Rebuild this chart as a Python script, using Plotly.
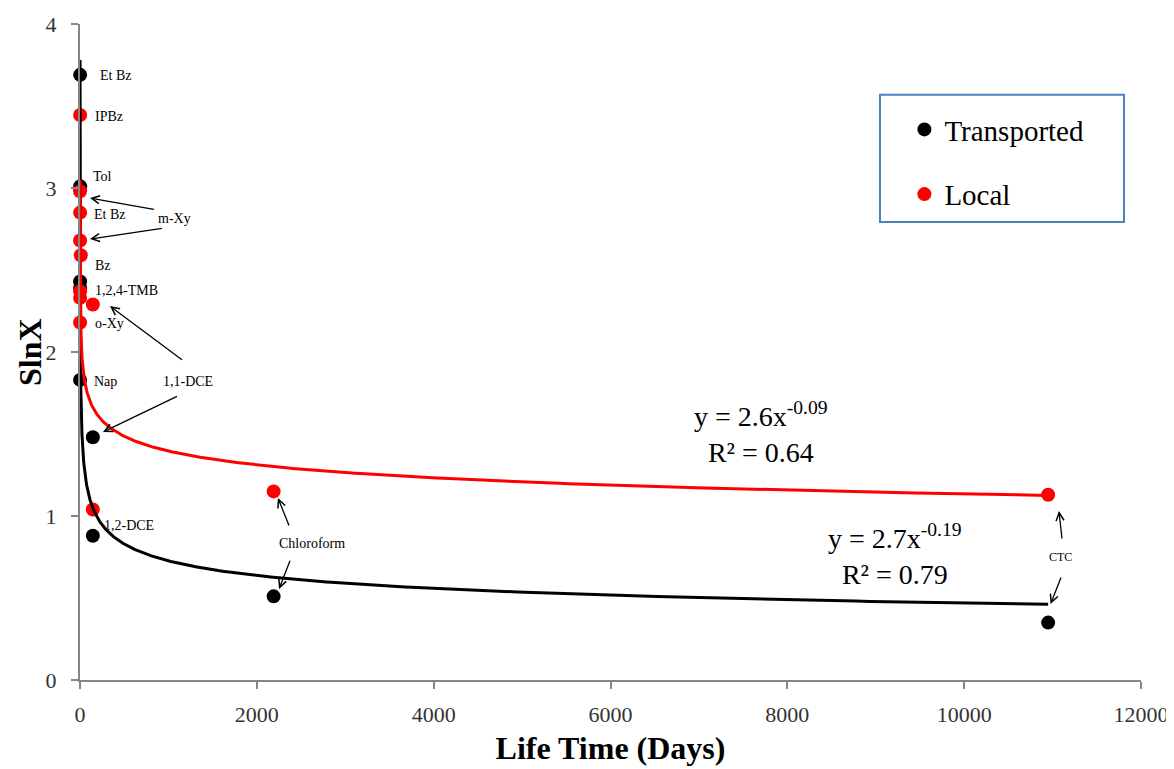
import numpy as np
import plotly.graph_objects as go

# ---------------- data ----------------
trans_names = ["Et Bz", "Tol", "1,2,4-TMB", "o-Xy", "Nap", "1,1-DCE", "1,2-DCE", "Chloroform", "CTC"]
trans_days = [1.7, 2.0, 1.0, 1.2, 0.7, 145, 145, 2190, 10950]
trans_slnx = [3.69, 3.01, 2.43, 2.39, 1.83, 1.48, 0.88, 0.51, 0.35]

local_names = ["IPBz", "m-Xy", "Et Bz", "m-Xy", "Bz", "1,2,4-TMB", "o-Xy", "1,1-DCE", "o-Xy", "1,2-DCE", "Chloroform", "CTC"]
local_days = [1.5, 0.6, 1.7, 0.6, 9.0, 1.0, 1.2, 145, 1.2, 145, 2190, 10950]
local_slnx = [3.445, 2.98, 2.85, 2.68, 2.59, 2.37, 2.33, 2.29, 2.18, 1.04, 1.15, 1.13]

# power-law trendlines as printed on the chart: y = a * x^b
trans_fit = (2.7, -0.19)
local_fit = (2.6, -0.09)
fit_start, fit_end = 0.17, 10950

x_ticks = [0, 2000, 4000, 6000, 8000, 10000, 12000]
x_ticktext = ["0", "2000", "4000", "6000", "8000", "10000", "12000"]
y_ticks = [0, 1, 2, 3, 4]
y_ticktext = ["0", "1", "2", "3", "4"]

SERIF = "Liberation Serif"

fig = go.Figure()

fig.add_trace(go.Scatter(x=trans_days, y=trans_slnx, mode="markers", name="Transported",
                         text=trans_names, legendgroup="t",
                         marker=dict(color="black", size=14), cliponaxis=False))
fig.add_trace(go.Scatter(x=local_days, y=local_slnx, mode="markers", name="Local",
                         text=local_names, legendgroup="l",
                         marker=dict(color="#FF0000", size=14), cliponaxis=False))

xf = np.logspace(np.log10(fit_start), np.log10(fit_end), 600)
for (a, b), col in [(trans_fit, "black"), (local_fit, "#FF0000")]:
    fig.add_trace(go.Scatter(x=xf, y=a * xf ** b, mode="lines", showlegend=False,
                             line=dict(color=col, width=3), hoverinfo="skip", cliponaxis=False))

# point labels (text, x, y, anchor)
labels = [
    ("Et Bz", 204, 3.683, "left"),
    ("IPBz", 147, 3.439, "left"),
    ("Tol", 124, 3.073, "left"),
    ("Et Bz", 136, 2.841, "left"),
    ("m-Xy", 1074, 2.817, "center"),
    ("Bz", 147, 2.53, "left"),
    ("1,2,4-TMB", 147, 2.378, "left"),
    ("o-Xy", 147, 2.171, "left"),
    ("Nap", 136, 1.823, "left"),
    ("1,1-DCE", 1220, 1.823, "center"),
    ("1,2-DCE", 249, 0.945, "left"),
    ("Chloroform", 2624, 0.835, "center"),
]
for t, x, y, anc in labels:
    fig.add_annotation(x=x, y=y, text=t, showarrow=False, xanchor=anc, yanchor="middle",
                       font=dict(family=SERIF, size=14, color="black"))
fig.add_annotation(x=11095, y=0.75, text="CTC", showarrow=False,
                   font=dict(family=SERIF, size=12, color="black"))

# arrows (head x, head y, tail x, tail y)
arrows = [
    (113, 2.939, 870, 2.866),
    (113, 2.689, 961, 2.756),
    (339, 2.280, 1187, 1.939),
    (260, 1.512, 1131, 1.738),
    (2239, 1.110, 2398, 0.896),
    (2251, 0.555, 2409, 0.774),
    (11072, 1.030, 11117, 0.811),
    (10977, 0.463, 11129, 0.671),
]
for hx, hy, tx, ty in arrows:
    fig.add_annotation(x=hx, y=hy, ax=tx, ay=ty, axref="x", ayref="y", text=" ",
                       showarrow=True, arrowhead=5, arrowsize=1.2, arrowwidth=1.3,
                       arrowcolor="black", standoff=0, startstandoff=0)

# trendline equations
fig.add_annotation(x=7702, y=1.51, text="y = 2.6x<sup>-0.09</sup><br>R² = 0.64", showarrow=False,
                   align="center", font=dict(family=SERIF, size=28, color="black"))
fig.add_annotation(x=9217, y=0.765, text="y = 2.7x<sup>-0.19</sup><br>R² = 0.79", showarrow=False,
                   align="center", font=dict(family=SERIF, size=28, color="black"))

# y axis title
fig.add_annotation(xref="paper", yref="paper", x=0, y=0.5, xshift=-50, text="<b>SlnX</b>",
                   textangle=-90, showarrow=False, xanchor="center", yanchor="middle",
                   font=dict(family=SERIF, size=32, color="black"))

# legend box
fig.add_shape(type="rect", xref="paper", yref="paper", x0=0.754, x1=0.984, y0=0.698, y1=0.892,
              line=dict(color="#4F81BD", width=2), fillcolor="rgba(0,0,0,0)")

axis_common = dict(showline=True, linecolor="#868686", linewidth=2, ticks="outside",
                   tickcolor="#868686", tickwidth=2, ticklen=7, showgrid=False, zeroline=False,
                   automargin=False,
                   tickfont=dict(family=SERIF, size=22, color="#333333"))

# page body has an 8px margin; size the figure to fit the 1174x769 window
fig.update_layout(
    width=1166, height=761,
    margin=dict(l=72, r=33, t=16, b=89),
    paper_bgcolor="white", plot_bgcolor="white",
    font=dict(family=SERIF),
    showlegend=True,
    legend=dict(x=0.777, y=0.878, xanchor="left", yanchor="top", bgcolor="rgba(0,0,0,0)",
                borderwidth=0, tracegroupgap=24,
                font=dict(family=SERIF, size=29, color="black")),
    xaxis=dict(range=[0, 12000], tickmode="array", tickvals=x_ticks, ticktext=x_ticktext,
               ticklabelstandoff=7,
               title=dict(text="<b>Life Time (Days)</b>", standoff=10,
                          font=dict(family=SERIF, size=32, color="black")),
               **axis_common),
    yaxis=dict(range=[0, 4], tickmode="array", tickvals=y_ticks, ticktext=y_ticktext,
               ticklabelstandoff=10,
               **axis_common),
)

fig.write_html("out.html")
